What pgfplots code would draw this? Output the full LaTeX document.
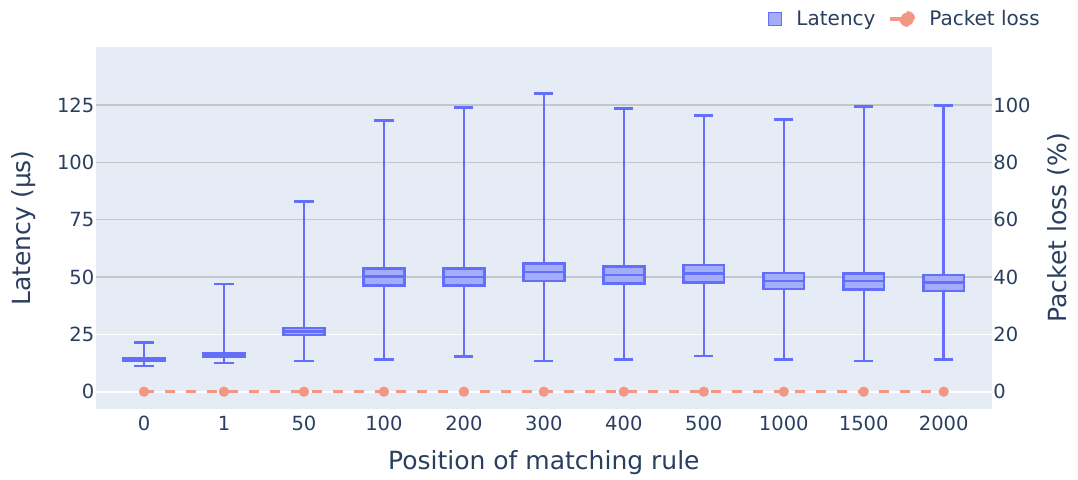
\documentclass[border=0pt]{standalone}
\usepackage{fontspec}
\setmainfont{DejaVu Sans}
\usepackage{pgfplots}
\usepackage{pgfplotstable}
\pgfplotsset{compat=1.18}

\definecolor{plotbg}{HTML}{E5ECF6}
\definecolor{labelcol}{HTML}{2A3F5F}
\definecolor{boxline}{HTML}{636EFA}
\definecolor{boxfill}{RGB}{164,173,248}
\definecolor{gridgrey}{RGB}{196,198,204}
\definecolor{losscol}{RGB}{241,152,132}

\newcommand{\tickfont}{\fontsize{19.5}{23}\selectfont}
\newcommand{\titlefont}{\fontsize{25}{30}\selectfont}
\newcommand{\legendfont}{\fontsize{20}{24}\selectfont}

\pgfplotsset{
  panel/.style={
    scale only axis, width=895.7pt, height=362.3pt,
    at={(0pt,0pt)}, anchor=south west,
    xmin=-0.6, xmax=10.6,
    axis line style={draw=none},
    major tick length=0pt,
    tick label style={font=\tickfont, text=labelcol},
    label style={font=\titlefont, text=labelcol},
    /pgf/number format/assume math mode=true,
  },
  latbox/.style={draw=boxline, fill=boxfill, line width=2.6pt, solid, mark=none, line join=miter},
}

% Latency summary per rule position:
% index, lower whisker, lower quartile, median, upper quartile, upper whisker
\pgfplotstableread{
idx lw    lq   med  uq   uw
0   11.3  13.5 14.0 14.4 21.5
1   12.5  15.4 16.0 16.6 47.0
2   13.4  24.7 26.2 27.7 83.0
3   14.1  46.4 50.2 53.7 118.3
4   15.3  46.4 50.1 53.7 123.9
5   13.5  48.2 52.1 56.0 130.1
6   14.1  47.2 51.0 54.7 123.4
7   15.6  47.7 51.5 55.2 120.4
8   14.1  44.8 48.4 51.8 118.8
9   13.4  44.6 48.3 51.6 124.3
10  14.0  44.0 47.7 50.9 124.9
}\latencytable

\begin{document}
\begin{tikzpicture}
\useasboundingbox (-96pt,-70pt) rectangle (982pt,409pt);

% Latency distribution per rule position (left axis)
\begin{axis}[panel,
  ymin=-7.54, ymax=150.46,
  ytick={0,25,50,75,100,125},
  ymajorgrids, major grid style={white, line width=1.3pt},
  extra y ticks={50,75,100,125}, extra y tick labels={},
  extra y tick style={grid=major, major grid style={gridgrey, line width=1.3pt}},
  xtick={0,...,10},
  xticklabels={0,1,50,100,200,300,400,500,1000,1500,2000},
  ytick pos=left, xtick pos=bottom,
  axis background/.style={fill=plotbg},
  xticklabel style={anchor=base, yshift=-21.9pt},
  yticklabel style={anchor=east, inner sep=0pt, xshift=-1.5pt},
  xlabel={Position of matching rule},
  xlabel style={at={(axis description cs:0.5,0)}, anchor=base, yshift=-60.3pt},
  ylabel={Latency (μs)},
  ylabel style={at={(axis description cs:-0.0809,0.5)}, anchor=center},
]
\draw[white, line width=2.2pt] (axis cs:-0.6,0) -- (axis cs:10.6,0);

% whiskers with caps, lower to upper whisker
\addplot[draw=none, mark=none,
  error bars/.cd, y dir=both, y explicit,
  error bar style={draw=boxline, line width=2.5pt, solid},
  error mark=-,
  error mark options={draw=boxline, line width=2.5pt, mark size=9.6pt, rotate=90}]
  table[x=idx, y=med,
    y error plus expr=\thisrow{uw}-\thisrow{med},
    y error minus expr=\thisrow{med}-\thisrow{lw}] {\latencytable};

% interquartile boxes
\addplot[latbox] coordinates {(-0.255,13.5) (0.255,13.5) (0.255,14.4) (-0.255,14.4)} -- cycle;
\addplot[latbox] coordinates {(0.745,15.4) (1.255,15.4) (1.255,16.6) (0.745,16.6)} -- cycle;
\addplot[latbox] coordinates {(1.745,24.7) (2.255,24.7) (2.255,27.7) (1.745,27.7)} -- cycle;
\addplot[latbox] coordinates {(2.745,46.4) (3.255,46.4) (3.255,53.7) (2.745,53.7)} -- cycle;
\addplot[latbox] coordinates {(3.745,46.4) (4.255,46.4) (4.255,53.7) (3.745,53.7)} -- cycle;
\addplot[latbox] coordinates {(4.745,48.2) (5.255,48.2) (5.255,56.0) (4.745,56.0)} -- cycle;
\addplot[latbox] coordinates {(5.745,47.2) (6.255,47.2) (6.255,54.7) (5.745,54.7)} -- cycle;
\addplot[latbox] coordinates {(6.745,47.7) (7.255,47.7) (7.255,55.2) (6.745,55.2)} -- cycle;
\addplot[latbox] coordinates {(7.745,44.8) (8.255,44.8) (8.255,51.8) (7.745,51.8)} -- cycle;
\addplot[latbox] coordinates {(8.745,44.6) (9.255,44.6) (9.255,51.6) (8.745,51.6)} -- cycle;
\addplot[latbox] coordinates {(9.745,44.0) (10.255,44.0) (10.255,50.9) (9.745,50.9)} -- cycle;

% medians
\addplot[only marks, mark=-, mark size=20.4pt,
  mark options={draw=boxline, line width=2.4pt, solid}]
  table[x=idx, y=med] {\latencytable};
\end{axis}

% Packet loss (right axis)
\begin{axis}[panel,
  ymin=-6.03, ymax=120.35,
  axis y line*=right, axis x line=none, xtick=\empty,
  ytick={0,20,40,60,80,100},
  yticklabel style={anchor=west, inner sep=0pt, xshift=1.5pt},
  ylabel={Packet loss (\%)},
  ylabel style={at={(axis description cs:1.0751,0.5)}, anchor=center},
  legend columns=2,
  legend style={at={(axis description cs:1.0539,1.0765)}, anchor=east,
    draw=none, fill=none, inner sep=0pt, font=\legendfont, text=labelcol,
    nodes={inner sep=0pt},
    /tikz/every even column/.append style={column sep=12.6pt}},
]
\addlegendimage{legend image code/.code={
  \draw[draw=boxline, fill=boxfill, line width=1.8pt] (1pt,-6.5pt) rectangle (14pt,6.5pt);
  \path[draw=none] (0pt,0pt) -- (29pt,0pt);}}
\addlegendentry{Latency}
\addplot[losscol, line width=2.7pt, dash pattern=on 10.5pt off 10.5pt,
  mark=*, mark size=3.7pt, mark options={solid},
  legend image code/.code={
    \draw[losscol, line width=4.5pt] (0pt,0pt) -- (17pt,0pt);
    \fill[losscol] (17pt,0pt) circle (6.5pt);
    \path[draw=none] (0pt,0pt) -- (39pt,0pt);}]
  coordinates {(0,0) (1,0) (2,0) (3,0) (4,0) (5,0) (6,0) (7,0) (8,0) (9,0) (10,0)};
\addlegendentry{Packet loss}
\end{axis}
\end{tikzpicture}
\end{document}
